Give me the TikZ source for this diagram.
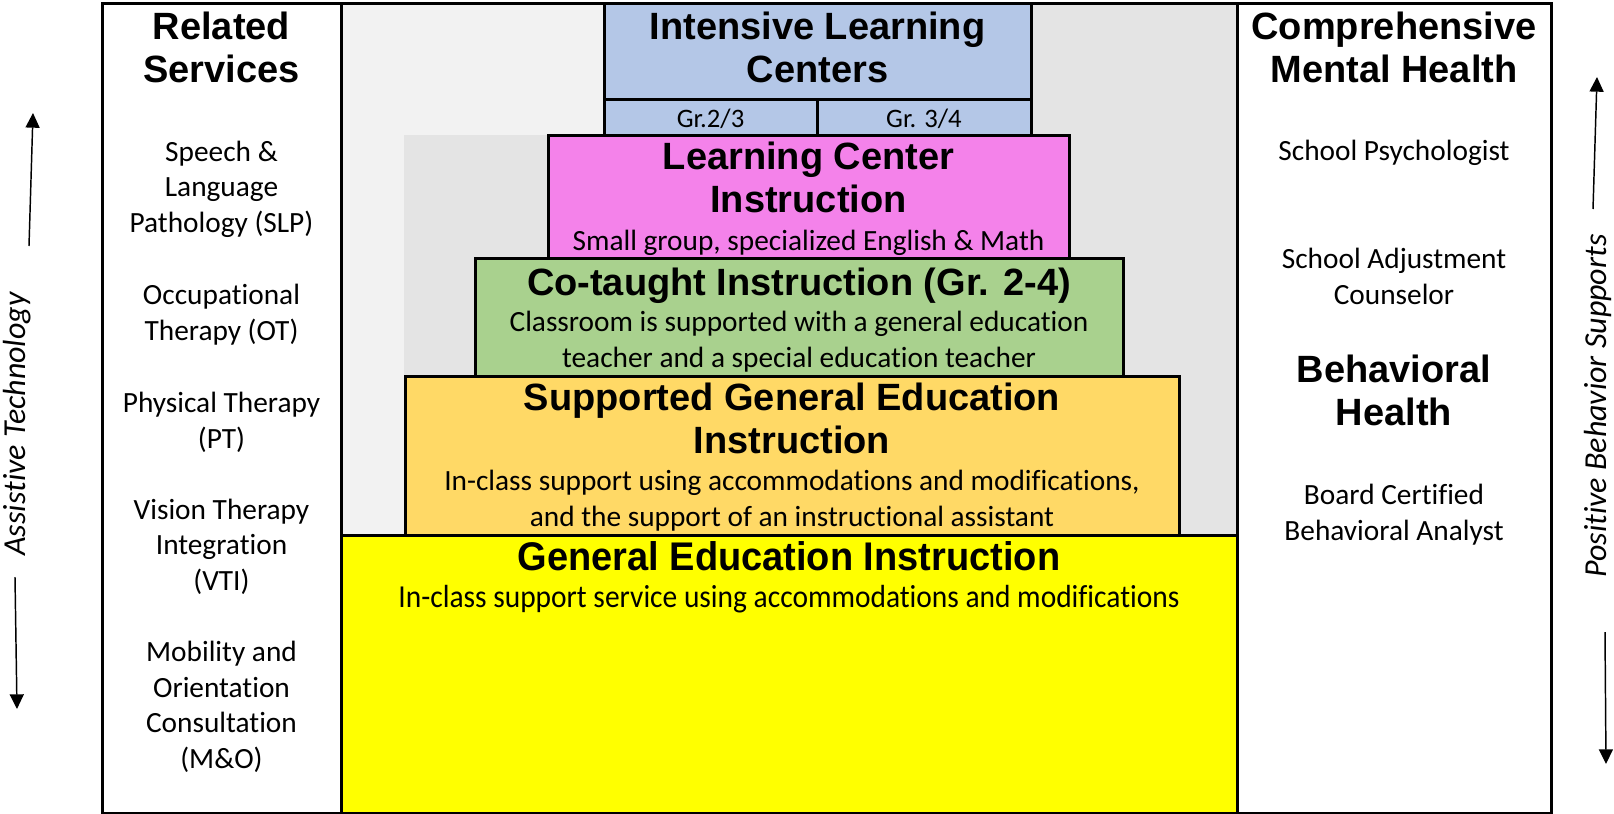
\documentclass[tikz,border=0pt]{standalone}
\usepackage{fontspec}
\usepackage{xcolor}
\setmainfont{Carlito}[Ligatures=NoCommon]
\newfontfamily\headfont{Liberation Sans}
\usetikzlibrary{arrows.meta}

\definecolor{bgpale}{HTML}{F2F2F2}
\definecolor{bgshade}{HTML}{E4E4E4}
\definecolor{ilcblue}{HTML}{B4C7E7}
\definecolor{lcpink}{HTML}{F482EA}
\definecolor{ctgreen}{HTML}{A9D18E}
\definecolor{sggold}{HTML}{FFD966}
\definecolor{geyellow}{HTML}{FFFF00}

\begin{document}
\begin{tikzpicture}[x=0.75pt,y=-0.75pt,
  box/.style={draw=black,line width=2.25pt},
  head/.style={font=\headfont\bfseries\fontsize{28.5}{32}\selectfont,align=center,anchor=base,inner sep=0pt},
  body/.style={font=\fontsize{22}{26.6}\selectfont,align=center,anchor=base,inner sep=0pt},
  grade/.style={font=\fontsize{20}{23}\selectfont,anchor=base,inner sep=0pt},
  side/.style={font=\itshape\fontsize{24}{28}\selectfont,rotate=90,inner sep=0pt},
  updown/.style={-{Triangle[width=10.5pt,length=11pt]},line width=1.1pt}]
\useasboundingbox (0,0) rectangle (1614,814);

\fill[bgpale] (341,3) rectangle (1237,535);
\fill[bgshade] (404,535) -- (404,135) -- (1031,135) -- (1031,3) -- (1237,3) -- (1237,535) -- cycle;

\draw[box,fill=geyellow] (341,535) rectangle (1237,813);
\draw[box,fill=sggold] (405,376) rectangle (1179,535);
\draw[box,fill=ctgreen] (475,258) rectangle (1123,376);
\draw[box,fill=lcpink] (548,135) rectangle (1069,258);
\draw[box,fill=ilcblue] (604,3) rectangle (1031,99);
\draw[box,fill=ilcblue] (604,99) rectangle (817,135);
\draw[box,fill=ilcblue] (817,99) rectangle (1031,135);

\draw[box] (102,3) rectangle (1551,813);
\draw[box] (341,3) -- (341,813);
\draw[box] (1237,3) -- (1237,813);

\node[head] (relhead) at (221.5,82) {Related\\Services};
\node[body] (slp) at (221.5,232) {Speech \&\\Language\\Pathology (SLP)};
\node[body] (ot) at (221.5,340) {Occupational\\Therapy (OT)};
\node[body] (pt) at (221.5,448) {Physical Therapy\\(PT)};
\node[body] (vti) at (221.5,590) {Vision Therapy\\Integration\\(VTI)};
\node[body] (mo) at (221.5,768) {Mobility and\\Orientation\\Consultation\\(M\&O)};

\node[head] (cmhhead) at (1394,82) {Comprehensive\\Mental Health};
\node[body] (psych) at (1394,160) {School Psychologist};
\node[body] (sac) at (1394,304) {School Adjustment\\Counselor};
\node[head] (bhhead) at (1394,425) {Behavioral\\Health};
\node[body] (bcba) at (1394,540) {Board Certified\\Behavioral Analyst};

\node[head] (ilc) at (817.5,82) {Intensive Learning\\Centers};
\node[grade] (gr23) at (710.5,127) {Gr.2/3};
\node[grade] (gr34) at (924,127) {Gr. 3/4};
\node[head] (lc) at (808.5,212) {Learning Center\\Instruction};
\node[body] (lcsub) at (808.5,250) {Small group, specialized English \& Math};
\node[head] (ct) at (799,295) {Co-taught Instruction (Gr. 2-4)};
\node[body] (ctsub) at (799,367) {Classroom is supported with a general education\\teacher and a special education teacher};
\node[head] (sg) at (792,453) {Supported General Education\\Instruction};
\node[body] (sgsub) at (792,526) {In-class support using accommodations and modifications,\\and the support of an instructional assistant};
\node[head,font=\headfont\bfseries\fontsize{30}{32}\selectfont] (ge) at (789,570) {\scalebox{0.95}[1]{General Education Instruction}};
\node[body,font=\fontsize{24}{27}\selectfont] (gesub) at (789,607) {\scalebox{0.92}[1]{In-class support service using accommodations and modifications}};

\node[side] (atlabel) at (17,424) {Assistive Technology};
\node[side] (pbslabel) at (1598,406) {Positive Behavior Supports};

\coordinate (atUpFrom) at (29,246);
\coordinate (atUpTo) at (33,113);
\coordinate (atDownFrom) at (15,577);
\coordinate (atDownTo) at (17,709);
\coordinate (pbsUpFrom) at (1593,209);
\coordinate (pbsUpTo) at (1597,77);
\coordinate (pbsDownFrom) at (1605,632);
\coordinate (pbsDownTo) at (1606,764);
\draw[updown] (atUpFrom) -- (atUpTo);
\draw[updown] (atDownFrom) -- (atDownTo);
\draw[updown] (pbsUpFrom) -- (pbsUpTo);
\draw[updown] (pbsDownFrom) -- (pbsDownTo);
\end{tikzpicture}
\end{document}
